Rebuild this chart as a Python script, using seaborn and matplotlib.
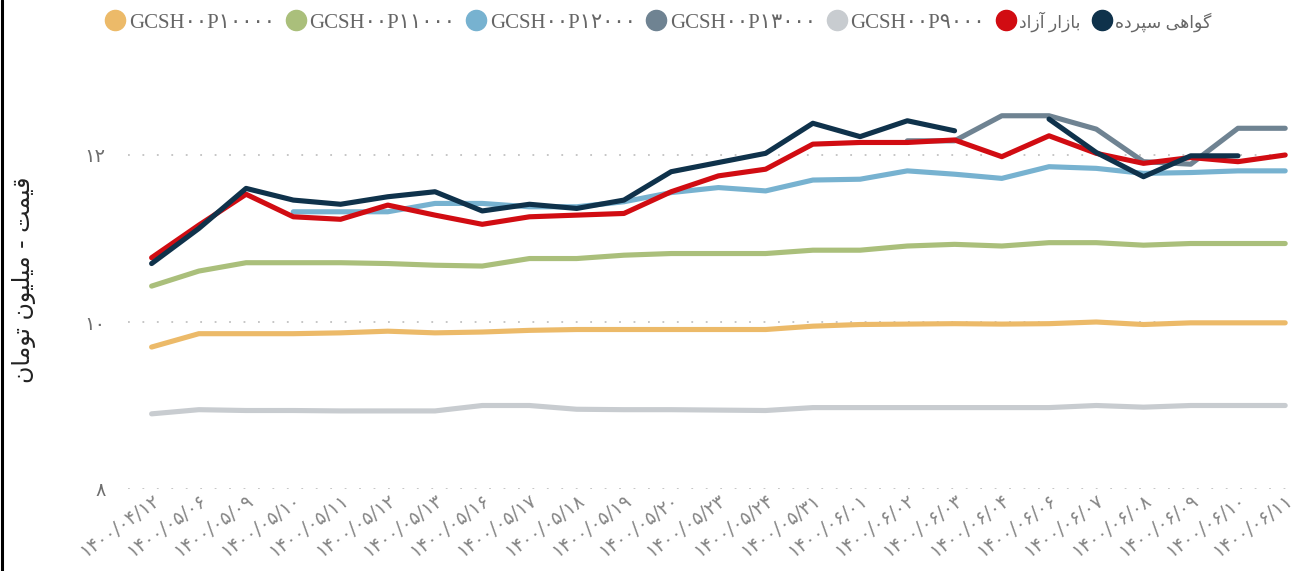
import numpy as np
import pandas as pd
import matplotlib
matplotlib.use("Agg")
import matplotlib.pyplot as plt
import seaborn as sns
from matplotlib.lines import Line2D
from matplotlib.font_manager import FontProperties

sns.set_theme(style="white")
plt.rcParams["font.family"] = ["DejaVu Sans"]

# ---- data -------------------------------------------------------------
dates = [
    "۱۴۰۰/۰۴/۱۲", "۱۴۰۰/۰۵/۰۶", "۱۴۰۰/۰۵/۰۹", "۱۴۰۰/۰۵/۱۰", "۱۴۰۰/۰۵/۱۱",
    "۱۴۰۰/۰۵/۱۲", "۱۴۰۰/۰۵/۱۳", "۱۴۰۰/۰۵/۱۶", "۱۴۰۰/۰۵/۱۷", "۱۴۰۰/۰۵/۱۸",
    "۱۴۰۰/۰۵/۱۹", "۱۴۰۰/۰۵/۲۰", "۱۴۰۰/۰۵/۲۳", "۱۴۰۰/۰۵/۲۴", "۱۴۰۰/۰۵/۳۱",
    "۱۴۰۰/۰۶/۰۱", "۱۴۰۰/۰۶/۰۲", "۱۴۰۰/۰۶/۰۳", "۱۴۰۰/۰۶/۰۴", "۱۴۰۰/۰۶/۰۶",
    "۱۴۰۰/۰۶/۰۷", "۱۴۰۰/۰۶/۰۸", "۱۴۰۰/۰۶/۰۹", "۱۴۰۰/۰۶/۱۰", "۱۴۰۰/۰۶/۱۱",
]
nan = np.nan

p10000 = [9.70, 9.86, 9.86, 9.86, 9.87, 9.89, 9.87, 9.88, 9.90, 9.91, 9.91, 9.91, 9.91,
          9.91, 9.95, 9.97, 9.975, 9.98, 9.975, 9.98, 10.00, 9.97, 9.99, 9.99, 9.99]
p11000 = [10.43, 10.61, 10.71, 10.71, 10.71, 10.70, 10.68, 10.67, 10.76, 10.76, 10.80,
          10.82, 10.82, 10.82, 10.86, 10.86, 10.91, 10.93, 10.91, 10.95, 10.95, 10.92,
          10.94, 10.94, 10.94]
p12000 = [nan, nan, nan, 11.32, 11.32, 11.32, 11.42, 11.42, 11.38, 11.38, 11.44, 11.55,
          11.61, 11.57, 11.70, 11.71, 11.81, 11.77, 11.72, 11.86, 11.84, 11.78, 11.79,
          11.81, 11.81]
p13000 = [nan] * 16 + [12.17, 12.17, 12.47, 12.47, 12.31, 11.92, 11.89, 12.32, 12.32]
p9000 = [8.90, 8.95, 8.94, 8.94, 8.935, 8.935, 8.935, 9.00, 9.00, 8.955, 8.95, 8.95,
         8.945, 8.94, 8.975, 8.975, 8.975, 8.975, 8.975, 8.975, 9.00, 8.98, 9.00, 9.00, 9.00]
free_market = [10.77, 11.16, 11.53, 11.26, 11.23, 11.40, 11.28, 11.17, 11.26, 11.28,
               11.30, 11.56, 11.75, 11.83, 12.13, 12.15, 12.15, 12.18, 11.98, 12.23,
               12.02, 11.90, 11.97, 11.92, 12.00]
deposit_cert = [10.70, 11.12, 11.60, 11.46, 11.41, 11.50, 11.56, 11.33, 11.41, 11.36,
                11.46, 11.80, 11.91, 12.02, 12.38, 12.22, 12.41, 12.29, nan, 12.43,
                12.03, 11.74, 11.99, 11.99, nan]

series_labels = ["GCSH۰۰P۱۰۰۰۰", "GCSH۰۰P۱۱۰۰۰", "GCSH۰۰P۱۲۰۰۰", "GCSH۰۰P۱۳۰۰۰",
                 "GCSH۰۰P۹۰۰۰", "بازار آزاد", "گواهی سپرده"]
series_values = [p10000, p11000, p12000, p13000, p9000, free_market, deposit_cert]
colors = ["#ECBA69", "#AABF7B", "#77B2D0", "#6F8392", "#C8CCD0", "#D10C12", "#0F324B"]

y_ticks = [8, 10, 12]
y_tick_labels = ["۸", "۱۰", "۱۲"]
y_title = "قیمت - میلیون تومان"

# ---- minimal Arabic-script shaping (presentation forms, visual order) --
FORMS = {
    "ا": (0xFE8D, 0xFE8E, None, None),
    "آ": (0xFE81, 0xFE82, None, None),
    "ب": (0xFE8F, 0xFE90, 0xFE91, 0xFE92),
    "پ": (0xFB56, 0xFB57, 0xFB58, 0xFB59),
    "ت": (0xFE95, 0xFE96, 0xFE97, 0xFE98),
    "د": (0xFEA9, 0xFEAA, None, None),
    "ر": (0xFEAD, 0xFEAE, None, None),
    "ز": (0xFEAF, 0xFEB0, None, None),
    "س": (0xFEB1, 0xFEB2, 0xFEB3, 0xFEB4),
    "ق": (0xFED5, 0xFED6, 0xFED7, 0xFED8),
    "گ": (0xFB92, 0xFB93, 0xFB94, 0xFB95),
    "ل": (0xFEDD, 0xFEDE, 0xFEDF, 0xFEE0),
    "م": (0xFEE1, 0xFEE2, 0xFEE3, 0xFEE4),
    "ن": (0xFEE5, 0xFEE6, 0xFEE7, 0xFEE8),
    "ه": (0xFEE9, 0xFEEA, 0xFEEB, 0xFEEC),
    "و": (0xFEED, 0xFEEE, None, None),
    "ی": (0xFBFC, 0xFBFD, 0xFBFE, 0xFBFF),
}


def is_arabic(text):
    return any(ch in FORMS for ch in text)


def shape(text):
    if not is_arabic(text):
        return text
    out = []
    for i, ch in enumerate(text):
        f = FORMS.get(ch)
        if f is None:
            out.append(ch)
            continue
        prev = text[i - 1] if i > 0 else None
        nxt = text[i + 1] if i < len(text) - 1 else None
        join_prev = prev in FORMS and FORMS[prev][2] is not None
        join_next = f[2] is not None and nxt in FORMS
        if join_prev and join_next:
            code = f[3]
        elif join_prev:
            code = f[1]
        elif join_next:
            code = f[2]
        else:
            code = f[0]
        out.append(chr(code))
    return "".join(reversed(out))


# ---- long-form table, one unit per unbroken run of values ----------------
rows = []
for label, vals in zip(series_labels, series_values):
    seg = 0
    started = False
    prev_nan = False
    for i, v in enumerate(vals):
        if np.isnan(v):
            prev_nan = True
            continue
        if prev_nan and started:
            seg += 1
        prev_nan = False
        started = True
        rows.append({"series": label, "x": i, "value": v, "segment": seg})
df = pd.DataFrame(rows)

# ---- figure -------------------------------------------------------------
W, H = 1305, 571
fig = plt.figure(figsize=(W / 100, H / 100), dpi=100)
ax = fig.add_axes([128 / W, 1 - 489 / H, (1297 - 128) / W, (489 - 71.5) / H])

sns.lineplot(
    data=df, x="x", y="value", hue="series", units="segment", estimator=None,
    hue_order=series_labels, palette=dict(zip(series_labels, colors)),
    lw=3.7, sort=True, legend=False, ax=ax,
    solid_capstyle="round", solid_joinstyle="round",
)

ax.set_xlim(-0.5, len(dates) - 1 + 0.25)
ax.set_ylim(8, 13)
for s in ax.spines.values():
    s.set_visible(False)
ax.grid(False)
ax.yaxis.grid(True, color="#c2c2c2", linestyle=(0, (1, 7)), lw=1.3)
ax.set_axisbelow(True)

ax.set_yticks(y_ticks)
ax.set_yticklabels(y_tick_labels)
ax.tick_params(axis="y", length=0, pad=16, labelsize=14, labelcolor="#6e6e6e")
ax.set_xticks(range(len(dates)))
ax.set_xticklabels(dates, rotation=36, ha="right", va="top",
                   rotation_mode="anchor", fontsize=13.5, color="#858585")
ax.tick_params(axis="x", length=0, pad=1)
ax.set_xlabel("")
ax.set_ylabel("")

fig.text(24 / W, 1 - 280 / H, shape(y_title), rotation=90, ha="center",
         va="center", fontsize=17, color="#222222")

handles = [Line2D([], [], marker="o", linestyle="none", markersize=14.5,
                  markerfacecolor=c, markeredgecolor=c) for c in colors]
leg = fig.legend(handles, [shape(s) for s in series_labels], loc="center left",
                 bbox_to_anchor=(106 / W, 1 - 22 / H), ncol=len(colors), frameon=False,
                 prop=FontProperties(family=["Liberation Serif", "DejaVu Sans"], size=15),
                 labelcolor="#666666", handlelength=0.9, handletextpad=0.2,
                 columnspacing=0.55, borderaxespad=0, borderpad=0)
for txt, raw in zip(leg.get_texts(), series_labels):
    if is_arabic(raw):
        txt.set_fontsize(12.5)

fig.add_artist(Line2D([1.5 / W, 1.5 / W], [0, 1], transform=fig.transFigure,
                      color="black", lw=2.2))

fig.savefig("out.png", dpi=100)
